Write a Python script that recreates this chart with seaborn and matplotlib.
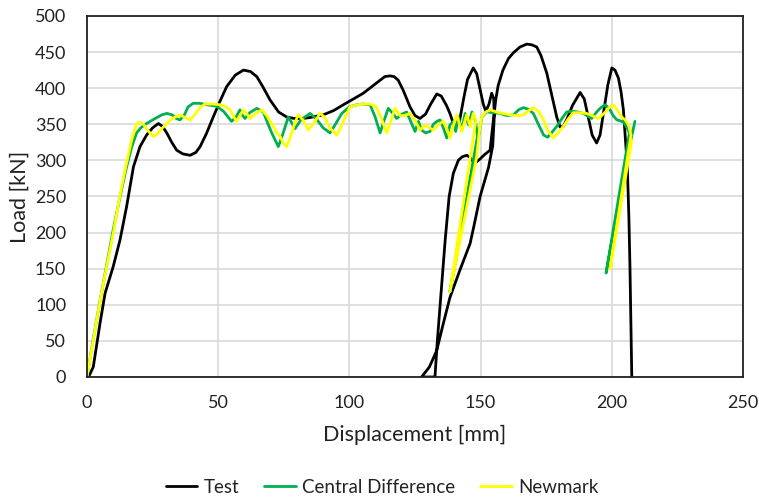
import numpy as np
import pandas as pd
import matplotlib
matplotlib.use("Agg")
import matplotlib.pyplot as plt
import seaborn as sns

# ---- data ----
test_x = [0, 1, 2.4, 3.5, 5, 6.9, 8.5, 10, 12.6, 15.1, 17.7, 20.2, 22.7, 25, 27.2, 28.8, 30.4, 32.3, 34.2,
          36.5, 39.3, 41.5, 43.1, 45.5, 48.1, 50.7, 53.2, 56.5, 59.6, 62.3, 64.7, 67, 69.7, 73, 76.1, 79,
          82.4, 86, 90, 94, 97.7, 101.5, 105.3, 108.5, 111.7, 113.5, 115.5, 117, 118.6, 120.5, 123.1, 125,
          126.9, 129, 131, 133.3, 135, 137, 138.3, 139.6, 140.5, 142, 143.5, 145, 147.2, 148.5, 149.8, 151,
          152, 153.2, 154.2, 155, 155.2, 154.6, 153, 151, 149.8, 147.5, 146, 142.1, 138.3, 135.5, 133.3,
          130.5, 127.5,
          132.6, 133.5, 135, 136.5, 138, 139.6, 141.5, 143, 144.7, 146, 147.2, 148.5, 149.8, 151.5, 153.6,
          154.8, 155.8, 156.7, 158.5, 160.6, 162.5, 165, 167.6, 169.5, 171.4, 173, 175.2, 177, 179, 180.3,
          181.5, 183, 185, 187.9, 189.5, 191, 192.5, 194.2, 195.5, 197, 198.5, 200, 201.2, 202.5, 203.5,
          204.4, 205, 205.9, 206.5, 206.9, 207.3, 207.6]
test_y = [0, 3, 14, 40, 75, 116, 135, 153, 190, 236, 291, 319, 335, 345, 351, 347, 338, 325, 314,
          309, 307, 311, 319, 337, 360, 382, 402, 418, 425, 423, 416, 402, 384, 367, 360, 358,
          358, 360, 363, 369, 377, 385, 393, 402, 411, 416, 417, 416, 411, 397, 374, 362,
          358, 364, 378, 392, 389, 376, 365, 351, 348, 355, 385, 412, 428, 420, 398, 378,
          368, 378, 393, 385, 360, 320, 290, 265, 250, 210, 185, 148, 110, 70, 37,
          14, 0,
          0, 50, 120, 190, 250, 282, 300, 305, 307, 304, 298, 298, 302, 308, 314,
          354, 385, 404, 425, 441, 449, 457, 461, 460, 457, 445, 421, 392, 360, 346,
          347, 358, 376, 394, 385, 360, 335, 324, 335, 370, 405, 428, 425, 414, 395,
          370, 338, 291, 220, 153, 70, 0]

cd_x = [0, 2.5, 5, 7.5, 10, 12.5, 15.1, 17, 18.9, 20.5, 22.7, 26, 28.5, 30.4, 32.5, 34, 35.4, 37, 38.5,
        40.5, 43, 45.6, 49.4, 52, 55.1, 56.8, 58.3, 59.3, 60.2, 62, 64.7, 67.2, 68.8, 70.4, 72.9, 74.5,
        76.7, 78, 79.3, 81.5, 85, 87.5, 90, 92.6, 95, 97.1, 100, 102.8, 105, 107.9, 109.8, 111.7, 113.2,
        114.8, 116.3, 118, 120, 121.8, 123.7, 125, 126.3, 127.5, 129, 130.7, 132, 133.3, 134.5, 135.8,
        137.1, 138.3, 139.6, 140.5, 141.5, 142.8, 144.1, 145.4, 146.7, 148, 148.8,
        138.3, 149.3, 150.5, 152.3, 155, 157.4, 160, 162.5, 164.5, 166.3, 168, 170.1, 172, 174, 175.5,
        177, 179, 181, 182.8, 185, 187, 189.1, 190.5, 192.3, 194, 195.5, 197.4, 199, 200.5, 201.9, 203,
        204.4, 205.5, 206.7, 197.8, 207, 208.8]
cd_y = [0, 55, 106, 155, 204, 248, 291, 318, 338, 345, 351, 358, 363, 365, 363, 358, 356, 362, 374,
        379, 379, 377, 375, 368, 354, 360, 370, 362, 358, 366, 372, 367, 352, 338, 319, 335,
        360, 352, 344, 356, 365, 357, 345, 338, 352, 365, 374, 377, 378, 377, 360, 338, 355,
        372, 366, 358, 364, 367, 351, 340, 354, 342, 338, 340, 350, 354, 356, 345,
        331, 349, 354, 340, 360, 342, 365, 349, 367, 356, 333,
        118, 335, 360, 367, 366, 365, 362, 363, 370, 373, 371, 365, 350, 335, 332,
        338, 347, 358, 367, 368, 367, 365, 362, 358, 366, 372, 377, 372, 362, 356, 355,
        353, 347, 338, 144, 324, 354]

nm_x = [0, 1.5, 3.7, 6, 8, 10, 12.5, 15, 17, 18.9, 20, 21.5, 23.5, 25.3, 27, 28.5, 30.4, 32.5, 35.4,
        37.5, 39.3, 41, 43, 45, 48, 50.7, 53, 54.5, 56, 57, 58.3, 59.6, 61, 62.1, 64, 66.6, 68.5, 70.4,
        72, 73.6, 75, 76.1, 77.5, 79, 80.5, 82.5, 84.3, 86.5, 88.8, 90.5, 92.5, 95.2, 97.5, 100.2, 103,
        105.5, 107.9, 110, 112, 114.2, 115.8, 117.4, 119.3, 121, 123.1, 125, 126.9, 128.8, 130.5, 132,
        134, 135.8, 137, 138.3, 139.6, 140.9, 142.8, 144.7, 146, 147.2, 148.2,
        138.3, 148.5, 149.5, 150.4, 152, 153.6, 157, 161.2, 164, 166.3, 168, 170.1, 172, 174, 175.5,
        177.7, 179.5, 181.5, 183.5, 185.3, 187.5, 190.4, 192.5, 194.9, 197, 199, 200.6, 202, 203.8, 205,
        206.3, 207.3, 199.3, 207.6]
nm_y = [0, 32, 79, 125, 162, 199, 250, 295, 328, 351, 353, 350, 340, 333, 337, 344, 351, 358, 363,
        359, 356, 363, 373, 378, 378, 377, 374, 370, 360, 354, 362, 370, 364, 358, 364, 370, 362, 351,
        340, 333, 323, 319, 332, 350, 363, 355, 342, 352, 365, 360, 345, 335, 352, 374, 377,
        378, 378, 375, 360, 338, 355, 372, 362, 362, 365, 355, 342, 349, 345, 342,
        350, 354, 345, 331, 348, 363, 340, 363, 347, 365, 356,
        118, 305, 340, 360, 367, 370, 366, 363, 362, 363, 368, 373, 368, 356, 342,
        331, 338, 347, 358, 366, 366, 365, 362, 358, 365, 373, 377, 370, 360, 356,
        350, 335, 150, 328]

series_names = ["Test", "Central Difference", "Newmark"]
colors = ["#000000", "#00B050", "#FFFF00"]

frames = []
for name, xs, ys in zip(series_names, [test_x, cd_x, nm_x], [test_y, cd_y, nm_y]):
    frames.append(pd.DataFrame({"Displacement": xs, "Load": ys, "Series": name}))
df = pd.concat(frames, ignore_index=True)

sns.set_theme(style="white")
plt.rcParams["font.family"] = ["Lato", "DejaVu Sans"]

fig = plt.figure(figsize=(7.59, 4.98), dpi=100)
ax = fig.add_axes([0.1146, 0.243, 0.8644, 0.725])

for name, col in zip(series_names, colors):
    sub = df[df["Series"] == name]
    sns.lineplot(data=sub, x="Displacement", y="Load", sort=False, estimator=None,
                 color=col, lw=2.0, label=name, ax=ax)

ax.set_xlim(0, 250)
ax.set_ylim(0, 500)
ax.set_xticks(np.arange(0, 251, 50))
ax.set_yticks(np.arange(0, 501, 50))
ax.grid(True, color="#d9d9d9", lw=1.2)
ax.set_axisbelow(True)
for s in ax.spines.values():
    s.set_color("#222222")
    s.set_linewidth(1.3)
ax.tick_params(axis="y", length=0, labelsize=13, colors="#222222", pad=15)
ax.tick_params(axis="x", length=0, labelsize=13, colors="#222222", pad=13)
ax.set_xlabel("Displacement [mm]", fontsize=15.5, color="#222222", labelpad=10)
ax.set_ylabel("Load [kN]", fontsize=15.5, color="#222222", labelpad=4)

leg = ax.legend(loc="center", bbox_to_anchor=(0.45, -0.305), ncol=3, frameon=False,
                fontsize=13.5, handlelength=1.7, handletextpad=0.35, columnspacing=1.3)
for t in leg.get_texts():
    t.set_color("#222222")

fig.savefig("out.png", dpi=100)
